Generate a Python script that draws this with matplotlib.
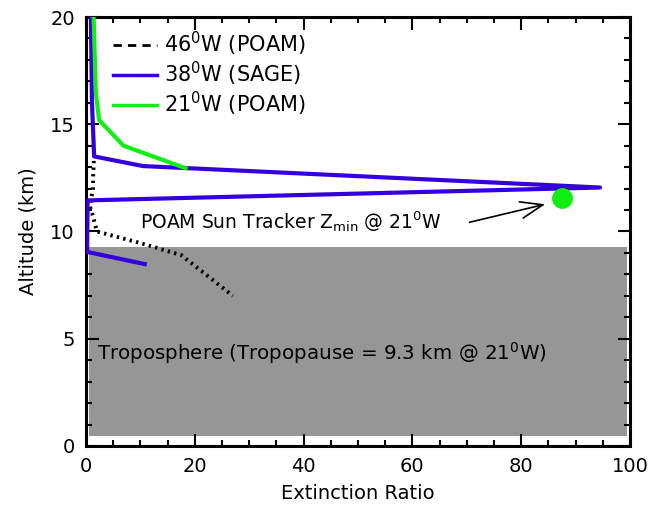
import numpy as np
import matplotlib
matplotlib.use('Agg')
import matplotlib.pyplot as plt
from matplotlib.lines import Line2D
from matplotlib.ticker import MultipleLocator

plt.rcParams['font.family'] = 'DejaVu Sans'
plt.rcParams['mathtext.default'] = 'regular'

# profiles: extinction ratio vs altitude (km)
alt_46w = [13.6, 12.5, 12.0, 11.2, 10.7, 10.0, 9.46, 8.9, 7.0]
ext_46w = [1.5, 1.3, 1.3, 0.7, 1.3, 2.0, 10.0, 17.5, 27.0]

alt_38w = [20.0, 16.0, 13.5, 13.05, 12.05, 11.45, 9.05, 8.48]
ext_38w = [0.9, 1.1, 1.5, 10.5, 94.5, 0.3, 0.2, 10.8]

alt_21w = [20.0, 16.5, 15.2, 14.0, 12.95]
ext_21w = [1.4, 1.8, 2.4, 6.9, 18.3]

# sun tracker zmin point and tropopause
zmin_ext, zmin_alt = 87.5, 11.55
tropopause = 9.3

fig = plt.figure(figsize=(6.64, 5.09), dpi=100)
ax = fig.add_axes([0.1295, 0.1238, 0.8193, 0.8428])

ax.fill_between([0.5, 99.5], 0.45, tropopause, color='#969696', lw=0, zorder=1)

ax.plot(ext_46w, alt_46w, color='black', lw=2.8, linestyle=(0, (0.6, 1.1)),
        dash_capstyle='butt', zorder=3)
ax.plot(ext_38w, alt_38w, color='#3300DD', lw=3.0, zorder=4)
ax.plot(ext_21w, alt_21w, color='#11EE11', lw=3.0, zorder=5)
ax.plot([zmin_ext], [zmin_alt], 'o', color='#11EE11', ms=14, zorder=6)

ax.annotate('', xy=(84.9, 11.3), xytext=(70.0, 10.4),
            arrowprops=dict(arrowstyle='->,head_length=1.6,head_width=0.6',
                            color='black', lw=1.2), zorder=6)
ax.text(10.0, 10.45, 'POAM Sun Tracker Z$_{min}$ @ 21$^0$W', fontsize=13.5,
        va='center', ha='left', zorder=6)
ax.text(2.0, 4.35, 'Troposphere (Tropopause = 9.3 km @ 21$^0$W)', fontsize=14.3,
        va='center', ha='left', zorder=6)

handles = [Line2D([], [], color='black', lw=2, linestyle=(0, (3, 2.2))),
           Line2D([], [], color='#3300DD', lw=2.5),
           Line2D([], [], color='#11EE11', lw=2.5)]
labels = ['46$^0$W (POAM)', '38$^0$W (SAGE)', '21$^0$W (POAM)']
ax.legend(handles, labels, loc='upper left', bbox_to_anchor=(0.035, 0.99),
          frameon=False, fontsize=15, handlelength=2.1, handletextpad=0.35,
          labelspacing=0.1, borderaxespad=0)

ax.set_xlim(0, 100)
ax.set_ylim(0, 20)
ax.xaxis.set_major_locator(MultipleLocator(20))
ax.xaxis.set_minor_locator(MultipleLocator(5))
ax.yaxis.set_major_locator(MultipleLocator(5))
ax.yaxis.set_minor_locator(MultipleLocator(1))
ax.tick_params(which='both', direction='in', top=True, right=True, width=1.5,
               labelsize=14)
ax.tick_params(which='major', length=9, pad=8)
ax.tick_params(which='minor', length=4.5)
for s in ax.spines.values():
    s.set_linewidth(2.2)

ax.set_xlabel('Extinction Ratio', fontsize=14, labelpad=6)
ax.set_ylabel('Altitude (km)', fontsize=14, labelpad=9)

fig.savefig('out.png', dpi=100)
